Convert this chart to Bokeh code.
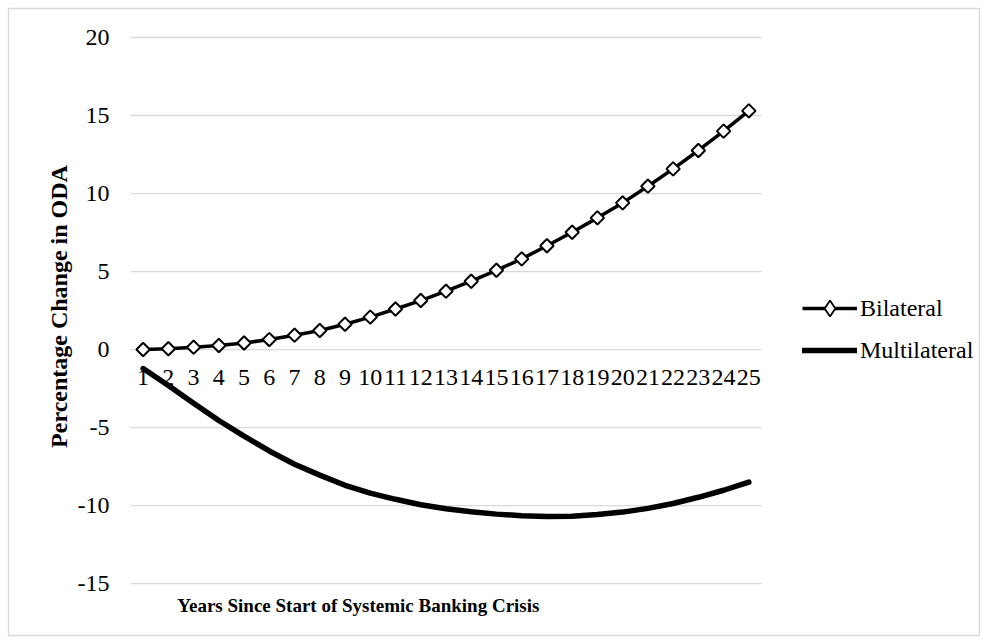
from bokeh.plotting import figure
from bokeh.models import Range1d, FixedTicker, Label, LegendItem, Legend
from bokeh.embed import file_html
from bokeh.resources import INLINE

# ---- data ----
years = [1, 2, 3, 4, 5, 6, 7, 8, 9, 10, 11, 12, 13, 14, 15, 16, 17, 18, 19, 20, 21, 22, 23, 24, 25]
bilateral = [0.0, 0.05, 0.15, 0.26, 0.42, 0.64, 0.92, 1.22, 1.62, 2.08, 2.6, 3.14, 3.74, 4.38, 5.08,
             5.81, 6.65, 7.52, 8.44, 9.4, 10.47, 11.58, 12.76, 14.0, 15.3]
multilateral = [-1.22, -2.3, -3.45, -4.55, -5.55, -6.5, -7.35, -8.05, -8.7, -9.2, -9.6, -9.95, -10.2,
                -10.4, -10.55, -10.65, -10.7, -10.68, -10.58, -10.42, -10.18, -9.87, -9.47, -9.02, -8.5]
y_ticks = [-15, -10, -5, 0, 5, 10, 15, 20]
x_title = "Years Since Start of Systemic Banking Crisis"
y_title = "Percentage Change in ODA"

FONT = "Liberation Serif"
GRID = "#d9d9d9"

# category axis spans 0.5 .. 25.5 ; the frame is the whole chart box
X_LO, X_HI = years[0] - 0.5, years[-1] + 0.5
p = figure(width=987, height=643, output_backend="svg", toolbar_location=None,
           x_range=Range1d(-4.334, 34.14), y_range=Range1d(-18.33, 21.86),
           min_border_left=8, min_border_right=8, min_border_top=8, min_border_bottom=8)
p.outline_line_color = GRID
p.outline_line_width = 1.3
p.background_fill_color = "white"
p.border_fill_color = "white"

# horizontal gridlines limited to the plot area
p.xgrid.visible = False
p.ygrid.visible = False
p.segment(x0=[X_LO] * len(y_ticks), x1=[X_HI] * len(y_ticks), y0=y_ticks, y1=y_ticks,
          line_color=GRID, line_width=1.3)

# y axis at the left edge of the plot area
p.yaxis.fixed_location = X_LO
p.yaxis.ticker = FixedTicker(ticks=y_ticks)
p.yaxis.major_label_overrides = {t: str(t) for t in y_ticks}
p.yaxis.axis_line_color = None
p.yaxis.major_tick_line_color = None
p.yaxis.minor_tick_line_color = None
p.yaxis.major_tick_out = 0
p.yaxis.major_tick_in = 0
p.yaxis.major_label_standoff = 21
p.yaxis.major_label_text_font = FONT
p.yaxis.major_label_text_font_size = "24px"
p.yaxis.major_label_text_color = "black"

# x axis crossing at 0
p.xaxis.fixed_location = 0
p.xaxis.ticker = FixedTicker(ticks=years)
p.xaxis.axis_line_color = None
p.xaxis.major_tick_line_color = None
p.xaxis.minor_tick_line_color = None
p.xaxis.major_tick_out = 0
p.xaxis.major_tick_in = 0
p.xaxis.major_label_standoff = 20
p.xaxis.major_label_text_font = FONT
p.xaxis.major_label_text_font_size = "24px"
p.xaxis.major_label_text_color = "black"

# series
r_multi = p.line(years, multilateral, line_color="black", line_width=5.5, line_cap="round",
                 line_join="round")
r_bi_line = p.line(years, bilateral, line_color="black", line_width=3.5)
# diamond used for the legend key (hidden under the plotted markers)
r_bi_key = p.scatter(years, bilateral, marker="diamond", size=10, fill_color="white",
                     line_color="black", line_width=1.8)
p.scatter(years, bilateral, marker="square", angle=0.785398, size=9.5, fill_color="white",
          line_color="black", line_width=2)

# axis titles
p.add_layout(Label(x=9.53, y=-16.4, text=x_title, text_align="center", text_baseline="middle",
                   text_font=FONT, text_font_style="bold", text_font_size="19px", text_color="black"))
p.add_layout(Label(x=-2.35, y=2.76, text=y_title, angle=1.5708, text_align="center",
                   text_baseline="middle", text_font=FONT, text_font_style="bold",
                   text_font_size="24px", text_color="black"))

# legend
lg = Legend(items=[LegendItem(label="Bilateral", renderers=[r_bi_line, r_bi_key]),
                   LegendItem(label="Multilateral", renderers=[r_multi])])
lg.location = (794, 265)
lg.border_line_color = None
lg.background_fill_alpha = 0
lg.padding = 0
lg.margin = 0
lg.spacing = 2
lg.glyph_width = 55
lg.glyph_height = 40
lg.label_height = 40
lg.label_standoff = 3
lg.label_text_font = FONT
lg.label_text_font_size = "24px"
lg.label_text_color = "black"
p.add_layout(lg)

open("out.html", "w").write(file_html(p, INLINE))
